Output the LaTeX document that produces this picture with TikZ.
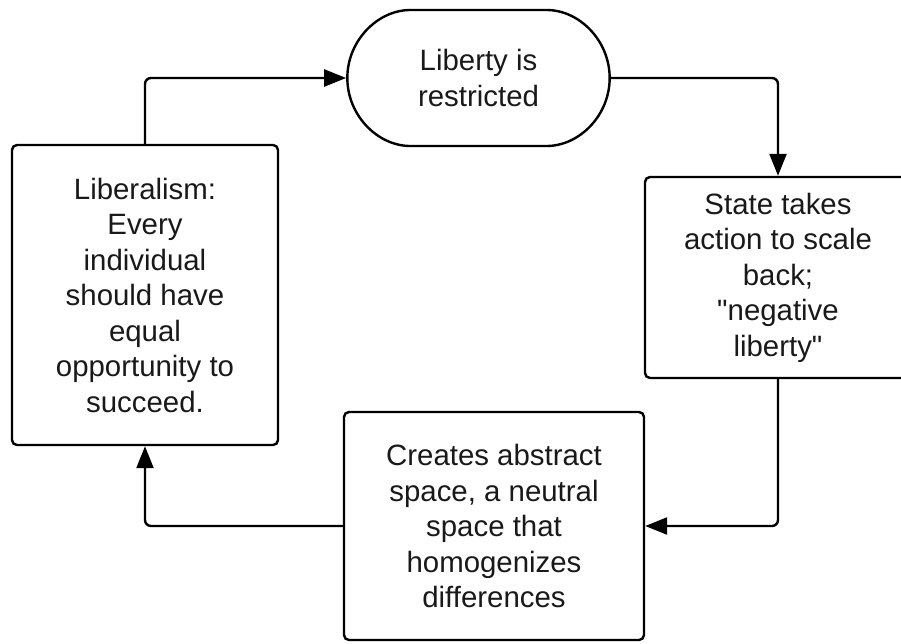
\documentclass[tikz,border=0pt]{standalone}
\usepackage{fontspec}
\setsansfont{Liberation Sans}
\tikzset{every picture/.style={/utils/exec={\sffamily}}}
\usetikzlibrary{arrows.meta}
\usetikzlibrary{shapes.misc}
\tikzset{
  stepbox/.style={draw, line width=2.4pt, rounded corners=5pt, align=center, text=black!90, font=\fontsize{29.4}{35.5}\selectfont},
  termbox/.style={stepbox, rounded rectangle},
  flow/.style={draw, line width=2.4pt, rounded corners=6pt, -{Triangle[length=22pt, width=17pt]}}
}
\begin{document}
\begin{tikzpicture}[x=1pt, y=1pt]
  \useasboundingbox (0,0) rectangle (901,-643);

  \node [termbox, minimum width=269pt, minimum height=136pt] (restrict) at (478.5,-78) {Liberty is\\restricted};
  \node [stepbox, minimum width=266pt, minimum height=300pt] (liberal) at (145,-295) {Liberalism:\\Every\\individual\\should have\\equal\\opportunity to\\succeed.};
  \node [stepbox, minimum width=266pt, minimum height=201pt] (state) at (778,-277.5) {State takes\\action to scale\\back;\\\textquotedbl negative\\liberty\textquotedbl};
  \node [stepbox, minimum width=300pt, minimum height=228pt] (abstract) at (494,-526) {Creates abstract\\space, a neutral\\space that\\homogenizes\\differences};

  \draw [flow] (liberal.north) |- (restrict.west);
  \draw [flow] (restrict.east) -| (state.north);
  \draw [flow] (state.south) |- (abstract.east);
  \draw [flow] (abstract.west) -| (liberal.south);
\end{tikzpicture}
\end{document}
